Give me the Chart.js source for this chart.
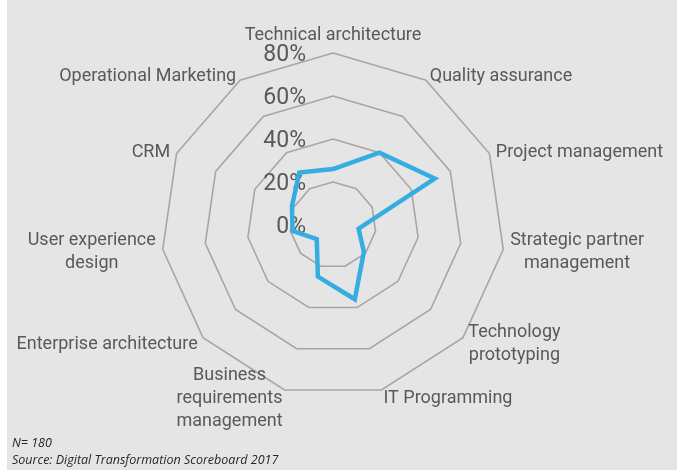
<!DOCTYPE html>
<html>
<head>
<meta charset="utf-8">
<script src="https://cdn.jsdelivr.net/npm/chart.js@4/dist/chart.umd.min.js"></script>
<style>
  html, body { margin: 0; padding: 0; background: #ffffff; width: 685px; height: 470px; overflow: hidden; }
  #panel { position: absolute; left: 7px; top: 0; width: 670px; height: 470px; background: #e5e5e5; }
  #wrap { position: absolute; left: 0; top: 0; width: 685px; height: 470px; }
  .note { position: absolute; left: 12px; font-family: "Open Sans", sans-serif; font-style: italic; font-size: 12.5px; line-height: 12px; color: #262626; white-space: nowrap; }
</style>
</head>
<body>
<div id="panel"></div>
<div id="wrap"><canvas id="c"></canvas></div>
<div class="note" style="top:437px">N= 180</div>
<div class="note" style="top:454px">Source: Digital Transformation Scoreboard 2017</div>
<script>
const categories = [
  "Technical architecture",
  "Quality assurance",
  "Project management",
  ["Strategic partner", "management"],
  ["Technology", "prototyping"],
  "IT Programming",
  ["Business", "requirements", "management"],
  "Enterprise architecture",
  ["User experience", "design"],
  "CRM",
  "Operational Marketing"
];
const shareValues = [26, 40, 52, 12, 19, 36, 25, 10, 19, 21, 29];
const tickValues = [0, 20, 40, 60, 80];

const labelFont = '18px Roboto, sans-serif';
const labelColor = '#595959';

const textPlugin = {
  id: 'excelText',
  beforeDatasetsDraw(chart) {
    const s = chart.scales.r;
    const ctx = chart.ctx;
    ctx.save();
    ctx.font = '23px Roboto, sans-serif';
    ctx.fillStyle = labelColor;
    ctx.textAlign = 'right';
    ctx.textBaseline = 'alphabetic';
    tickValues.forEach(v => {
      const d = s.getDistanceFromCenterForValue(v);
      ctx.fillText(v + '%', s.xCenter - 27, s.yCenter - d + 8);
    });
    ctx.restore();
  },
  afterDraw(chart) {
    const s = chart.scales.r;
    const ctx = chart.ctx;
    const n = categories.length;
    const lineH = 23;
    const capHalf = 6.5;
    ctx.save();
    ctx.font = labelFont;
    ctx.fillStyle = labelColor;
    ctx.textBaseline = 'alphabetic';
    ctx.textAlign = 'center';
    for (let i = 0; i < n; i++) {
      const lines = Array.isArray(categories[i]) ? categories[i] : [categories[i]];
      const p = s.getPointPosition(i, s.drawingArea + 7);
      const ang = i * 2 * Math.PI / n;
      const sin = Math.sin(ang);
      const widths = lines.map(t => ctx.measureText(t).width);
      const W = Math.max(...widths);
      let cx;
      if (Math.abs(sin) < 1e-6) cx = p.x;
      else if (sin > 0) cx = p.x + W / 2;
      else cx = p.x - W / 2;
      let firstBase;
      if (i === 0) {
        firstBase = p.y - 6 - (lines.length - 1) * lineH;
      } else {
        firstBase = p.y - (lines.length - 1) * lineH / 2 + capHalf;
      }
      lines.forEach((t, k) => ctx.fillText(t, cx, firstBase + k * lineH));
    }
    ctx.restore();
  }
};

new Chart(document.getElementById('c'), {
  type: 'radar',
  data: {
    labels: categories,
    datasets: [{
      data: shareValues,
      borderColor: '#35ade0',
      borderWidth: 4.5,
      borderJoinStyle: 'miter',
      fill: false,
      pointRadius: 0,
      pointHoverRadius: 0,
      tension: 0
    }]
  },
  options: {
    responsive: true,
    maintainAspectRatio: false,
    animation: false,
    layout: { padding: { left: 0, right: 19, top: 53, bottom: 73 } },
    plugins: { legend: { display: false }, tooltip: { enabled: false } },
    scales: {
      r: {
        min: 0,
        max: 80,
        ticks: { stepSize: 20, display: false },
        angleLines: { display: false },
        grid: { color: '#a6a6a6', lineWidth: 1.6 },
        pointLabels: { display: false }
      }
    }
  },
  plugins: [textPlugin]
});
</script>
</body>
</html>
